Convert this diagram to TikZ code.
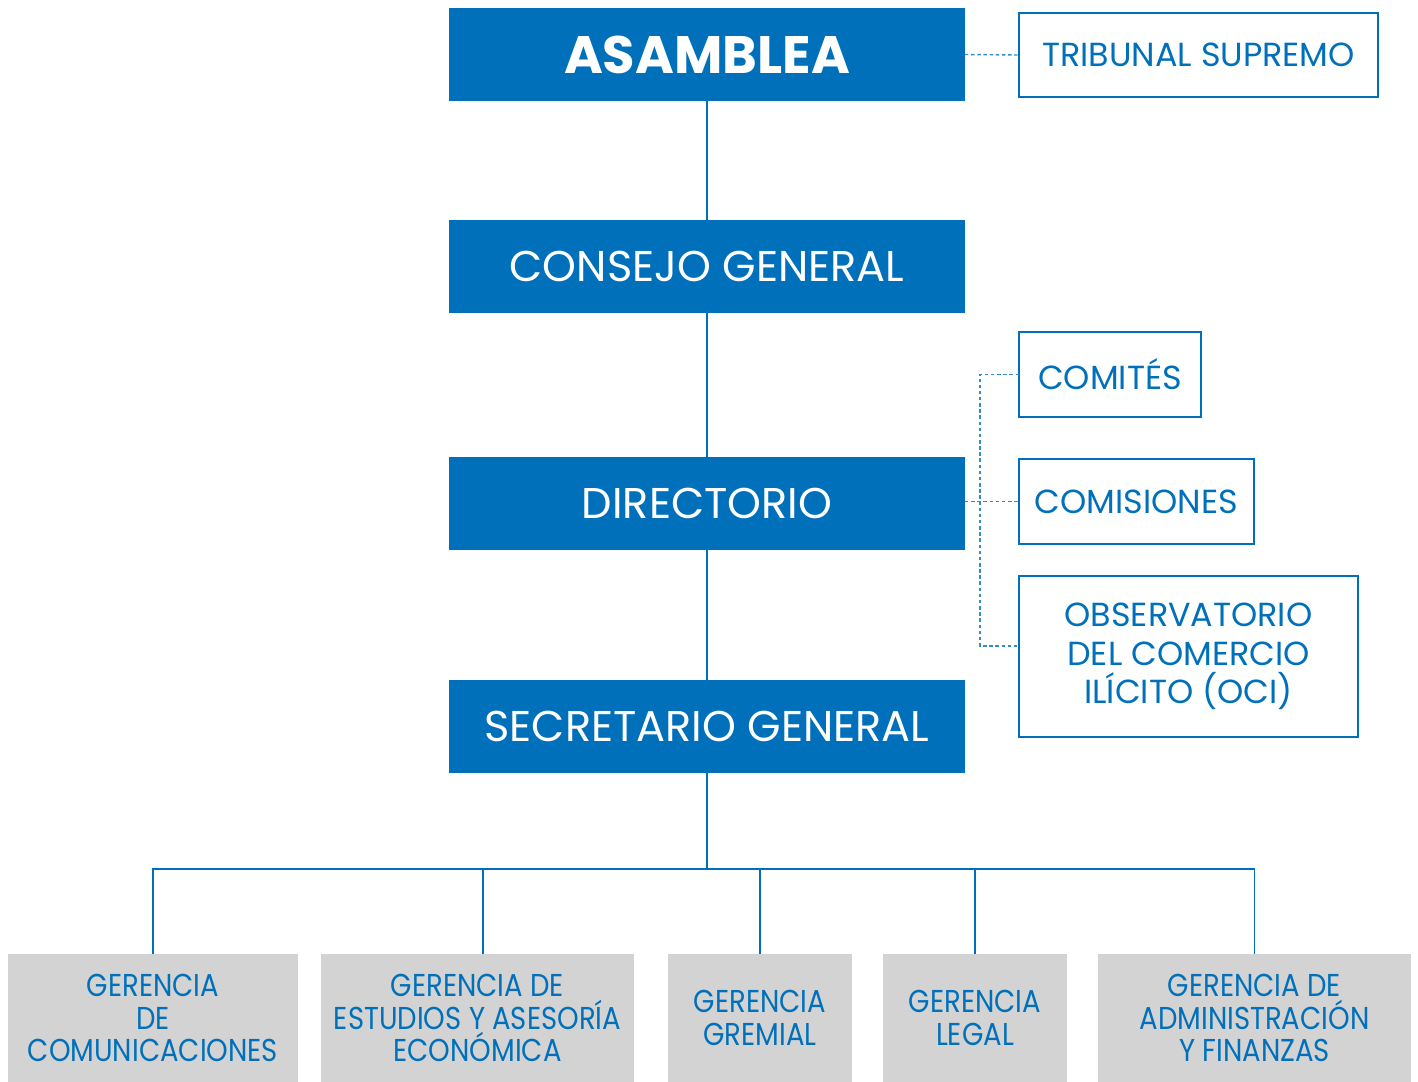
\documentclass[tikz,border=0pt]{standalone}
\usepackage{fontspec}
\setmainfont{Poppins}
\newfontfamily\narrowfont[FakeStretch=0.87]{Poppins}
\definecolor{orgblue}{HTML}{0070BA}
\definecolor{orggray}{HTML}{D3D3D3}
\begin{document}
\begin{tikzpicture}[x=0.02cm,y=-0.02cm,inner sep=0pt,outer sep=0pt,
mainblock/.style={fill=orgblue,minimum width=10.32cm,minimum height=1.86cm,text=white,font=\fontsize{24.5}{28}\selectfont},
sideblock/.style={draw=orgblue,line width=1.1pt,text=orgblue,align=center,font=\fontsize{19}{22}\selectfont},
areablock/.style={fill=orggray,text=orgblue,minimum height=2.56cm,align=center,font=\narrowfont\fontsize{18}{18.5}\selectfont},
link/.style={draw=orgblue,line width=0.85pt},
dashlink/.style={draw=orgblue!80,dash pattern=on 2pt off 1.5pt,line width=0.8pt}]
\useasboundingbox (0,0) rectangle (1418,1082);
% main line
\node[mainblock,font=\bfseries\fontsize{30}{34}\selectfont] (asamblea) at (707,54.5) {ASAMBLEA};
\node[mainblock] (consejo) at (707,266.5) {CONSEJO GENERAL};
\node[mainblock] (directorio) at (707,503.5) {DIRECTORIO};
\node[mainblock] (secretario) at (707,726.5) {SECRETARIO GENERAL};
% side bodies
\node[sideblock,minimum width=7.18cm,minimum height=1.68cm] (tribunal) at (1198.5,55) {TRIBUNAL SUPREMO};
\node[sideblock,minimum width=3.64cm,minimum height=1.70cm] (comites) at (1110,374.5) {COMITÉS};
\node[sideblock,minimum width=4.70cm,minimum height=1.70cm] (comisiones) at (1136.5,501.5) {COMISIONES};
\node[sideblock,minimum width=6.78cm,minimum height=3.22cm] (observatorio) at (1188.5,656.5) {OBSERVATORIO\\DEL COMERCIO\\ILÍCITO (OCI)};
% gerencias
\node[areablock,minimum width=5.80cm] (comunicaciones) at (153,1018) {GERENCIA\\DE\\COMUNICACIONES};
\node[areablock,minimum width=6.26cm] (estudios) at (477.5,1018) {GERENCIA DE\\ESTUDIOS Y ASESORÍA\\ECONÓMICA};
\node[areablock,minimum width=3.68cm] (gremial) at (760,1018) {GERENCIA\\GREMIAL};
\node[areablock,minimum width=3.68cm] (legal) at (975,1018) {GERENCIA\\LEGAL};
\node[areablock,minimum width=6.26cm] (finanzas) at (1254.5,1018) {GERENCIA DE\\ADMINISTRACIÓN\\Y FINANZAS};
% connectors
\draw[link] (asamblea) -- (consejo);
\draw[link] (consejo) -- (directorio);
\draw[link] (directorio) -- (secretario);
\coordinate (bus) at (0,869);
\coordinate (rail) at (980,0);
\coordinate (obsin) at ([yshift=0.21cm]observatorio.west);
\draw[link] (secretario.south) -- (secretario.south |- bus);
\draw[link] (comunicaciones.north) -- (comunicaciones.north |- bus) -- (finanzas.north |- bus) -- (finanzas.north);
\draw[link] ([xshift=0.11cm]estudios.north) -- ([xshift=0.11cm]estudios.north |- bus);
\draw[link] (gremial.north) -- (gremial.north |- bus);
\draw[link] (legal.north) -- (legal.north |- bus);
\draw[dashlink] (asamblea.east) -- (tribunal.west);
\draw[dashlink] (directorio.east |- comisiones.west) -- (comisiones.west);
\draw[dashlink] (comites.west) -- (comites.west -| rail) -- (obsin -| rail) -- (obsin);
\end{tikzpicture}
\end{document}
